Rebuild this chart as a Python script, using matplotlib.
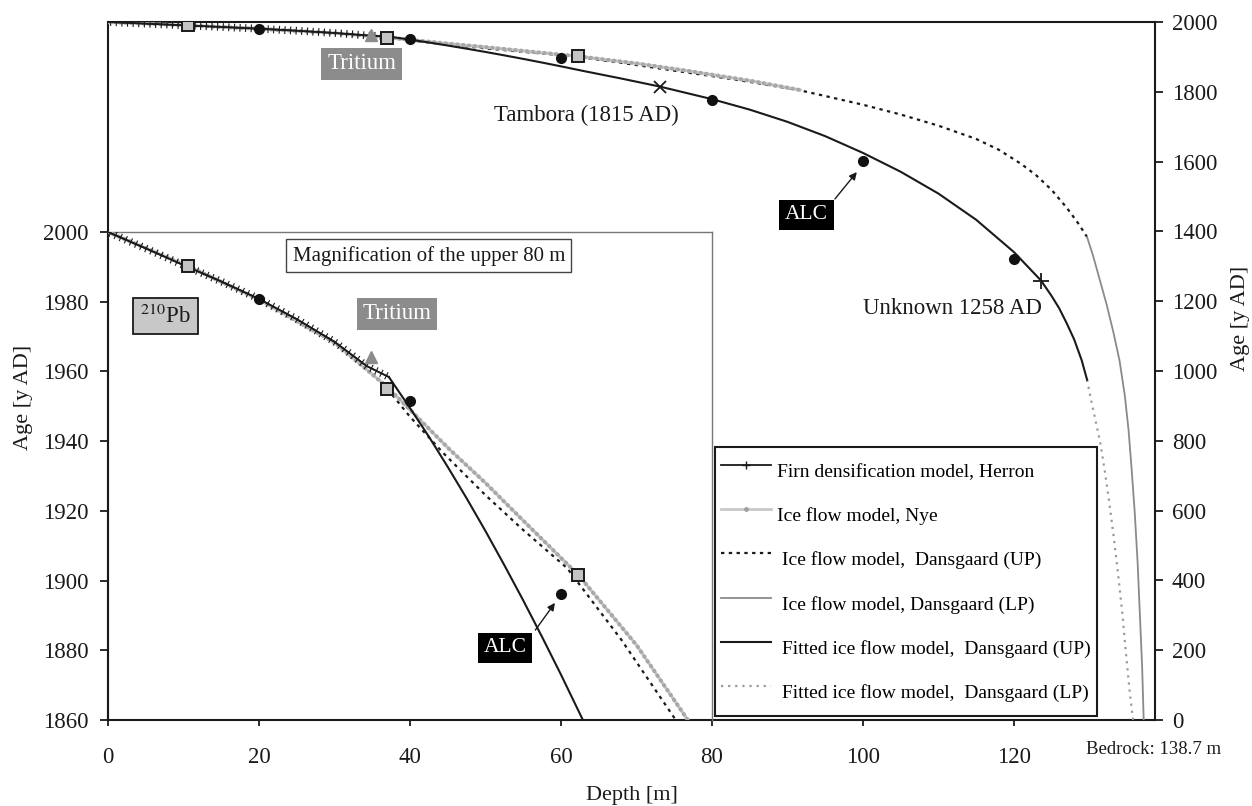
import matplotlib
matplotlib.use('Agg')
import matplotlib.pyplot as plt
from matplotlib import patheffects as pe
from matplotlib.lines import Line2D

plt.rcParams['font.family'] = 'serif'
plt.rcParams['font.serif'] = ['Liberation Serif', 'DejaVu Serif']
plt.rcParams['mathtext.fontset'] = 'stix'

# ---- model curves: depth (m) vs age (y AD) -------------------------------
herron_depth = [0, 5, 10, 15, 20, 25, 30, 34.3, 37.2]
herron_age = [2000, 1995.3, 1990.5, 1985.8, 1980.8, 1975.0, 1968.5, 1961.5, 1958.4]

nye_depth = [0, 10.6, 20, 30, 37, 45.3, 50, 55, 62.3, 70, 76.8, 85, 91.7]
nye_age = [2000, 1990.2, 1980.6, 1968.3, 1955.5, 1937.5, 1928, 1917.2, 1901.6, 1881.5,
           1860, 1832, 1805]

dup_depth = [37, 40, 44.4, 50, 55, 60.8, 68, 75.2, 80, 85, 91.7, 95, 100, 105, 110,
             115, 118, 121, 123, 125, 127, 128.5, 129.7]
dup_age = [1955, 1947, 1936.6, 1924.5, 1914.5, 1903.6, 1883, 1860, 1845, 1828.5, 1804,
           1788, 1763, 1735, 1703, 1665, 1634, 1593, 1560, 1519, 1468, 1424, 1384]

dlp_depth = [129.7, 130.5, 131.4, 132.3, 133.2, 134.0, 134.7, 135.2, 135.6, 136.0,
             136.4, 136.7, 137.0, 137.2]
dlp_age = [1384, 1330, 1260, 1190, 1110, 1030, 930, 830, 720, 600, 450, 300, 150, 0]

fup_depth = [37.2, 40, 42.5, 45, 47.5, 50, 52.5, 55, 57.5, 60, 62.9, 68, 73.1, 80, 85,
             90, 95, 100, 105, 110, 115, 120, 123.6, 125, 126, 127, 128, 129, 129.7]
fup_age = [1958.4, 1949.5, 1941.3, 1932.6, 1923.6, 1914.2, 1904.4, 1894.3, 1883.8,
           1873.0, 1860.0, 1838, 1815, 1779, 1749, 1714, 1673, 1625, 1571, 1508.5,
           1433.5, 1341, 1259.3, 1215, 1180, 1137, 1090, 1030, 975]

flp_depth = [129.7, 130.2, 130.8, 131.4, 132.0, 132.6, 133.2, 133.8, 134.4, 134.9,
             135.4, 135.8]
flp_age = [975, 920, 860, 800, 720, 630, 530, 420, 300, 180, 70, 0]

# ---- dated horizons ------------------------------------------------------
pb_depth = [10.6, 37.0, 62.3]
pb_age = [1990.2, 1955.0, 1901.6]
alc_depth = [20, 40, 60, 80, 100, 120]
alc_age = [1980.8, 1951.5, 1896.2, 1777, 1602, 1321]
tritium_depth = [34.8]
tritium_age = [1964]
tambora_depth = [73.1]
tambora_age = [1815]
unknown_depth = [123.6]
unknown_age = [1258]

labels = ['Firn densification model, Herron',
          'Ice flow model, Nye',
          ' Ice flow model,  Dansgaard (UP)',
          ' Ice flow model, Dansgaard (LP)',
          ' Fitted ice flow model,  Dansgaard (UP)',
          ' Fitted ice flow model,  Dansgaard (LP)']

K = '#1a1a1a'
W, H = 1252, 806


def fbox(x0, y0, x1, y1):
    return [x0 / W, 1 - y1 / H, (x1 - x0) / W, (y1 - y0) / H]


fig = plt.figure(figsize=(W / 100, H / 100), dpi=100)
ax = fig.add_axes(fbox(108, 22, 1155, 720))
axi = fig.add_axes(fbox(108, 232, 712, 720))
axi.set_facecolor('none')

ticked = [pe.withTickedStroke(angle=90, spacing=4, length=0.6, linewidth=0.8),
          pe.withTickedStroke(angle=-90, spacing=4, length=0.6, linewidth=0.8)]


def draw_models(a):
    a.plot(dup_depth, dup_age, color=K, lw=1.6, ls=(0, (1.5, 2)), zorder=2)
    a.plot(nye_depth, nye_age, color='#c8c8c8', lw=2.2, zorder=3)
    a.plot(nye_depth, nye_age, color='#a8a8a8', lw=3, ls=(0, (0.1, 1.3)),
           dash_capstyle='round', zorder=3)
    a.plot(fup_depth, fup_age, color=K, lw=1.5, zorder=3.5)
    a.plot(herron_depth, herron_age, color=K, lw=1.2, zorder=4, path_effects=ticked)
    a.plot(dlp_depth, dlp_age, color='#8a8a8a', lw=1.3, zorder=3)
    a.plot(flp_depth, flp_age, color='#9a9a9a', lw=1.6, ls=(0, (1, 2.2)), zorder=3)
    a.plot(pb_depth, pb_age, 's', ms=8.5, mfc='#c4c4c4', mec=K, mew=1.4, zorder=6)
    a.plot(alc_depth, alc_age, 'o', ms=7, color='#111111', zorder=6)
    a.plot(tritium_depth, tritium_age, '^', ms=9, color='#8c8c8c', zorder=6)


draw_models(ax)
draw_models(axi)
ax.plot(tambora_depth, tambora_age, 'x', ms=9, mew=1.3, color=K, zorder=6)
ax.plot(unknown_depth, unknown_age, '+', ms=12, mew=1.3, color=K, zorder=6)

# ---- main axes -----------------------------------------------------------
ax.set_xlim(0, 138.7)
ax.set_ylim(0, 2000)
ax.set_xticks(range(0, 121, 20))
ax.set_yticks(range(0, 2001, 200))
ax.yaxis.tick_right()
ax.yaxis.set_label_position('right')
ax.tick_params(axis='y', direction='out', length=6, width=1.3, pad=6,
               labelsize=16.5, colors=K)
ax.tick_params(axis='x', direction='out', length=4.5, width=1.3, pad=15,
               labelsize=16.5, colors=K)
for s in ax.spines.values():
    s.set_color(K)
    s.set_linewidth(1.5)
ax.set_xlabel('Depth [m]', fontsize=16, labelpad=13, color=K)
ax.set_ylabel('Age [y AD]', fontsize=16, color=K)
ax.yaxis.set_label_coords(1.073, 0.576)

# ---- inset: upper 80 m ---------------------------------------------------
axi.set_xlim(0, 80)
axi.set_ylim(1860, 2000)
axi.set_yticks(range(1860, 2001, 20))
axi.tick_params(axis='y', direction='out', length=6, width=1.3, pad=8,
                labelsize=16.5, colors=K)
axi.tick_params(axis='x', bottom=False, labelbottom=False)
axi.spines['bottom'].set_visible(False)
for side in ('top', 'right'):
    axi.spines[side].set_color('#777777')
    axi.spines[side].set_linewidth(1.0)
axi.spines['left'].set_color(K)
axi.spines['left'].set_linewidth(1.5)
axi.set_ylabel('Age [y AD]', fontsize=16, color=K)
axi.yaxis.set_label_coords(-0.125, 0.662)

# ---- annotations ---------------------------------------------------------
grey_box = dict(boxstyle='square,pad=0.25', fc='#8c8c8c', ec='none')
black_box = dict(boxstyle='square,pad=0.27', fc='black', ec='none')
arrow = dict(arrowstyle='-|>', color=K, lw=1, mutation_scale=11, shrinkA=0, shrinkB=0)

ax.text(33.6, 1880, 'Tritium', color='white', fontsize=16.5, ha='center',
        va='center', bbox=grey_box, zorder=7)
ax.text(63.4, 1733, 'Tambora (1815 AD)', color=K, fontsize=16.5, ha='center', va='center')
ax.text(111.8, 1180, 'Unknown 1258 AD', color=K, fontsize=16.5, ha='center', va='center')
ax.text(92.5, 1447, 'ALC', color='white', fontsize=15.5, ha='center', va='center',
        bbox=black_box, zorder=7)
ax.annotate('', xy=(99.2, 1570), xytext=(96.3, 1493), arrowprops=arrow)

axi.text(42.5, 1993.2, 'Magnification of the upper 80 m', color=K, fontsize=15,
         ha='center', va='center',
         bbox=dict(boxstyle='square,pad=0.3', fc='white', ec='#444444', lw=1))
axi.text(7.6, 1975.9, r'$^{210}$Pb', color=K, fontsize=16.5, ha='center', va='center',
         bbox=dict(boxstyle='square,pad=0.3', fc='#c8c8c8', ec=K, lw=1.3))
axi.text(38.3, 1976.5, 'Tritium', color='white', fontsize=16.5, ha='center',
         va='center', bbox=grey_box)
axi.text(52.6, 1880.7, 'ALC', color='white', fontsize=15.5, ha='center', va='center',
         bbox=black_box, zorder=7)
axi.annotate('', xy=(59.2, 1893.6), xytext=(56.6, 1885.8), arrowprops=arrow)

fig.text(1154 / W, 1 - 749 / H, 'Bedrock: 138.7 m', ha='center', va='center',
         fontsize=13.5, color=K)

# ---- legend --------------------------------------------------------------
handles = [
    Line2D([], [], color=K, lw=1.3, marker='+', ms=6, mew=1),
    Line2D([], [], color='#c8c8c8', lw=2, marker='.', ms=5, mfc='#a0a0a0', mec='#a0a0a0'),
    Line2D([], [], color=K, lw=1.6, ls=(0, (1.5, 2))),
    Line2D([], [], color='#8a8a8a', lw=1.3),
    Line2D([], [], color=K, lw=1.5),
    Line2D([], [], color='#9a9a9a', lw=1.6, ls=(0, (1, 2.2))),
]
leg = ax.legend(handles, labels, loc='upper left',
                bbox_to_anchor=((715 - 108) / 1047, (720 - 447) / 698),
                borderaxespad=0, fontsize=14, handlelength=2.6, handletextpad=0.3,
                handleheight=2.5, labelspacing=0.405, borderpad=0.3,
                fancybox=False, framealpha=1, edgecolor=K, numpoints=1)
leg.get_frame().set_linewidth(1.5)

fig.savefig('out.png', dpi=100)
